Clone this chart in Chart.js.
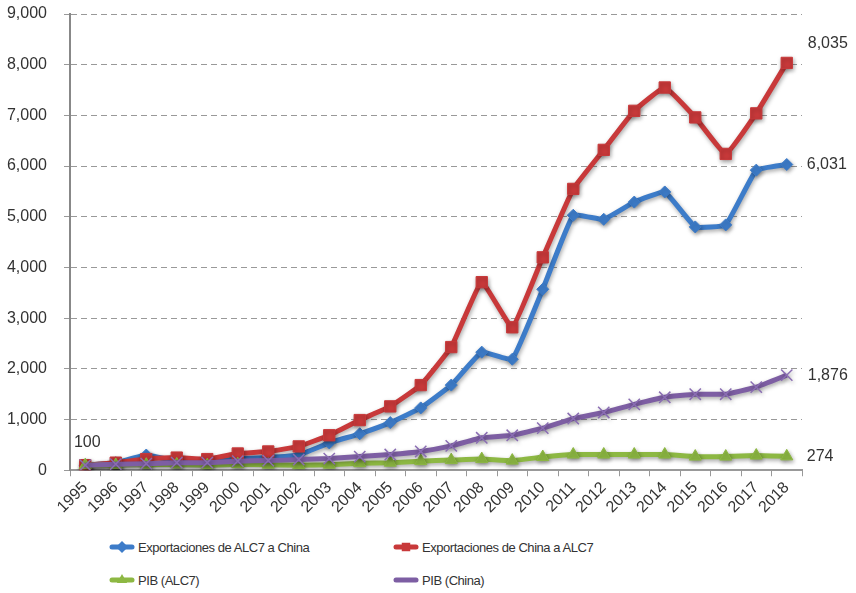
<!DOCTYPE html>
<html>
<head>
<meta charset="utf-8">
<script src="https://cdn.jsdelivr.net/npm/chart.js@4"></script>
<style>
  body { margin: 0; background: #fff; font-family: "Liberation Sans", Arial, sans-serif; }
  #wrap { position: relative; width: 856px; height: 593px; }
  #chartBox { position: absolute; left: 0; top: 0; width: 856px; height: 535px; }
  .leg { position: absolute; display: flex; align-items: center; font-size: 13px; letter-spacing: -0.45px; color: #333; }
  .leg canvas { margin-right: 3px; }
</style>
</head>
<body>
<div id="wrap">
  <div id="chartBox"><canvas id="chart"></canvas></div>
  <div class="leg" style="left:109px; top:538px"><canvas id="lg0" width="26" height="18"></canvas>Exportaciones de ALC7 a China</div>
  <div class="leg" style="left:393px; top:538px"><canvas id="lg1" width="26" height="18"></canvas>Exportaciones de China a ALC7</div>
  <div class="leg" style="left:109px; top:571px"><canvas id="lg2" width="26" height="18"></canvas>PIB (ALC7)</div>
  <div class="leg" style="left:393px; top:571px"><canvas id="lg3" width="26" height="18"></canvas>PIB (China)</div>
</div>
<script>
// datos (índice 1995 = 100)
const years = ['1995','1996','1997','1998','1999','2000','2001','2002','2003','2004','2005','2006',
               '2007','2008','2009','2010','2011','2012','2013','2014','2015','2016','2017','2018'];
const expAlc7China = [100, 150, 300, 180, 160, 230, 250, 300, 540, 720, 940, 1230,
                      1680, 2330, 2190, 3570, 5030, 4950, 5290, 5490, 4800, 4840, 5920, 6031];
const expChinaAlc7 = [100, 150, 220, 250, 220, 330, 370, 470, 690, 990, 1260, 1680,
                      2430, 3710, 2820, 4200, 5550, 6320, 7090, 7550, 6960, 6240, 7040, 8035];
const pibAlc7 = [100, 105, 110, 115, 100, 120, 110, 100, 110, 140, 150, 180,
                 200, 220, 190, 260, 310, 310, 310, 310, 270, 270, 290, 274];
const pibChina = [100, 120, 130, 150, 150, 180, 190, 210, 230, 270, 310, 370,
                  480, 640, 690, 830, 1020, 1140, 1300, 1440, 1500, 1500, 1640, 1876];
const yTicks = [0, 1000, 2000, 3000, 4000, 5000, 6000, 7000, 8000, 9000];

const fmt = v => v.toLocaleString('en-US');
const FONT = '"Liberation Sans", Arial, sans-serif';

const series = [
  { label: 'Exportaciones de ALC7 a China', data: expAlc7China, color: '#3d7cc9', point: 'rectRot', radius: 6, order: 4 },
  { label: 'Exportaciones de China a ALC7', data: expChinaAlc7, color: '#c8393a', point: 'rect', radius: 8, order: 3 },
  { label: 'PIB (ALC7)', data: pibAlc7, color: '#8db843', point: 'triangle', radius: 7, order: 2 },
  { label: 'PIB (China)', data: pibChina, color: '#7d5ea3', point: 'crossRot', radius: 8, order: 1 }
];

// etiquetas de valores: [serie, índice, dx, dy, align]
const valueLabels = [
  [0, 0, 2, -23, 'center'],
  [1, 23, 21, -19, 'left'],
  [0, 23, 20, 0, 'left'],
  [3, 23, 21, 0, 'left'],
  [2, 23, 20, 0, 'left']
];

const shadowPlugin = {
  id: 'shadow',
  beforeDatasetDraw(chart) {
    const c = chart.ctx;
    c.save();
    c.shadowColor = 'rgba(0,0,0,0.35)';
    c.shadowBlur = 4;
    c.shadowOffsetX = 1;
    c.shadowOffsetY = 2;
  },
  afterDatasetDraw(chart) { chart.ctx.restore(); }
};

const labelPlugin = {
  id: 'valueLabels',
  afterDatasetsDraw(chart) {
    const c = chart.ctx;
    const xs = chart.scales.x, ys = chart.scales.y;
    c.save();
    c.font = '16px ' + FONT;
    c.fillStyle = '#333';
    c.textBaseline = 'middle';
    valueLabels.forEach(([s, i, dx, dy, al]) => {
      const v = series[s].data[i];
      c.textAlign = al;
      c.fillText(fmt(v), xs.getPixelForValue(i) + dx, ys.getPixelForValue(v) + dy);
    });
    c.restore();
  }
};

new Chart(document.getElementById('chart'), {
  type: 'line',
  data: {
    labels: years,
    datasets: series.map(s => ({
      label: s.label,
      data: s.data,
      borderColor: s.color,
      backgroundColor: s.color,
      borderWidth: 5,
      pointStyle: s.point,
      pointRadius: s.radius,
      pointBorderColor: s.point === 'crossRot' ? '#8a6db3' : s.color,
      pointBorderWidth: s.point === 'crossRot' ? 1.5 : 1,
      pointBackgroundColor: s.color,
      tension: 0.1,
      order: s.order
    }))
  },
  options: {
    responsive: true,
    maintainAspectRatio: false,
    animation: false,
    layout: { padding: { left: 7, right: 54, top: 4, bottom: 16 } },
    plugins: { legend: { display: false }, tooltip: { enabled: false } },
    scales: {
      x: {
        offset: true,
        afterFit: axis => { axis.paddingLeft = 0; axis.paddingRight = 0; },
        grid: { offset: true, drawOnChartArea: false, drawTicks: true, tickLength: 6, color: '#999', lineWidth: 1 },
        border: { color: '#999', width: 2 },
        ticks: { autoSkip: false, minRotation: 45, maxRotation: 45, color: '#333', font: { size: 16, family: FONT }, padding: 2 }
      },
      y: {
        min: 0, max: 9000,
        afterBuildTicks: axis => { axis.ticks = yTicks.map(v => ({ value: v })); },
        afterFit: axis => { axis.width = 63; axis.paddingTop = 14; axis.paddingBottom = 9; },
        grid: { color: '#999', lineWidth: 1, tickLength: 6, drawTicks: true },
        border: { color: '#888', width: 2, dash: [6, 4] },
        ticks: { color: '#333', font: { size: 16, family: FONT }, padding: 17, callback: v => fmt(v) }
      }
    }
  },
  plugins: [shadowPlugin, labelPlugin]
});

// iconos de la leyenda
series.forEach((s, i) => {
  const c = document.getElementById('lg' + i).getContext('2d');
  c.strokeStyle = s.color;
  c.lineWidth = 5;
  c.lineCap = 'round';
  c.beginPath(); c.moveTo(3, 9); c.lineTo(23, 9); c.stroke();
  c.fillStyle = s.color;
  c.strokeStyle = s.point === 'crossRot' ? '#8a6db3' : s.color;
  c.lineWidth = s.point === 'crossRot' ? 1.5 : 1;
  Chart.helpers.drawPoint(c, { pointStyle: s.point, radius: Math.min(s.radius, 6), rotation: 0 }, 13, 9);
});
</script>
</body>
</html>
